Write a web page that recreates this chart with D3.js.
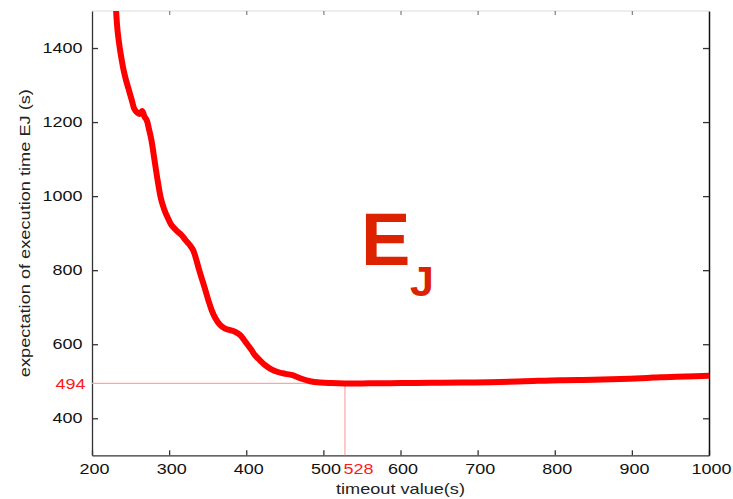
<!DOCTYPE html>
<html>
<head>
<meta charset="utf-8">
<script src="https://cdn.jsdelivr.net/npm/d3@7"></script>
<style>
  html, body { margin: 0; padding: 0; background: #fff; }
  svg { display: block; font-family: "Liberation Sans", Arial, Helvetica, sans-serif; }
</style>
</head>
<body>
<svg id="chart" width="733" height="499"></svg>
<script>
// Timeout value (s) and the expected execution time E_J (s) for each timeout
const timeout = [231, 233, 236, 238.5, 241, 244, 248, 251.5, 255, 259, 262, 265, 268, 271, 274, 277,
  281, 285, 289.5, 294, 299, 303, 310, 316, 321, 326, 331, 335, 339, 343, 347, 351, 355, 360, 366,
  372, 379, 386, 392, 397, 402, 407, 411, 418, 424, 432, 441, 451, 461, 470, 483, 496, 510, 528,
  545, 560, 600, 640, 680, 716, 760, 807, 850, 885, 920, 937, 970, 1000];
const expectedTime = [1510, 1450, 1400, 1368, 1340, 1314, 1285, 1260, 1235, 1225, 1222, 1230, 1215, 1205, 1180, 1152,
  1098, 1044, 992, 962, 938, 922, 906, 895, 882, 870, 855, 830, 800, 773, 746, 718, 693, 670, 652,
  643, 638, 633, 625, 612, 598, 584, 571, 556, 544, 533, 525, 520, 516, 508, 500, 496.5, 495, 494,
  494, 494.5, 495, 496, 496.5, 497.5, 500, 503, 504, 506, 509, 511, 513, 515];

const xTicks = [200, 300, 400, 500, 600, 700, 800, 900, 1000];
const yTicks = [400, 600, 800, 1000, 1200, 1400];

// Optimum marked on the chart
const optTimeout = [528];
const optValue = [494];

const svg = d3.select("#chart");
const plotLeft = 92, plotRight = 709, plotTop = 11, plotBottom = 455.3;
const fontSize = "14.5px";
const widen = 1.24; // labels are set wide along their baseline

const x = d3.scaleLinear().domain([200, 1000]).range([plotLeft, plotRight]);
const y = d3.scaleLinear().domain([300, 1500]).range([plotBottom, plotTop]);

// stretch each text horizontally about its own anchor point
function stretch(sel, s) {
  sel.each(function () {
    const t = d3.select(this);
    const ax = +t.attr("x") || 0, ay = +t.attr("y") || 0;
    t.attr("transform", `translate(${ax},${ay}) scale(${s},1) translate(${-ax},${-ay})`);
  });
}

svg.append("defs").append("clipPath").attr("id", "plot-clip")
  .append("rect").attr("x", plotLeft).attr("y", plotTop)
  .attr("width", plotRight - plotLeft).attr("height", plotBottom - plotTop);

// frame: light top edge
svg.append("line").attr("x1", plotLeft).attr("x2", plotRight).attr("y1", plotTop).attr("y2", plotTop)
  .attr("stroke", "#dcdcdc").attr("stroke-width", 1);

function styleAxis(g, color, textColor) {
  g.select(".domain").attr("stroke", color).attr("stroke-width", 1.3);
  g.selectAll(".tick line").attr("stroke", color).attr("stroke-width", 1.3);
  g.selectAll(".tick text").attr("fill", textColor).style("font-size", fontSize);
}

// bottom axis (ticks pointing inward)
const gx = svg.append("g").attr("transform", `translate(0,${plotBottom})`)
  .call(d3.axisBottom(x).tickValues(xTicks).tickFormat(d3.format("d")).tickSize(-5).tickSizeOuter(0).tickPadding(8));
styleAxis(gx, "#333", "#111");
gx.selectAll(".tick text").attr("x", 2);
stretch(gx.selectAll(".tick text"), widen);

// top mirror ticks
const gxt = svg.append("g").attr("transform", `translate(0,${plotTop})`)
  .call(d3.axisTop(x).tickValues(xTicks.slice(1, -1)).tickFormat("").tickSize(-4).tickSizeOuter(0));
gxt.select(".domain").remove();
gxt.selectAll(".tick line").attr("stroke", "#888").attr("stroke-width", 1.3);

// left axis
const gy = svg.append("g").attr("transform", `translate(${plotLeft},0)`)
  .call(d3.axisLeft(y).tickValues(yTicks).tickFormat(d3.format("d")).tickSize(-6).tickSizeOuter(0).tickPadding(9.5));
styleAxis(gy, "#333", "#111");
stretch(gy.selectAll(".tick text"), widen);

// right mirror axis
const gyr = svg.append("g").attr("transform", `translate(${plotRight},0)`)
  .call(d3.axisRight(y).tickValues(yTicks).tickFormat("").tickSize(-6).tickSizeOuter(0));
gyr.select(".domain").attr("stroke", "#111").attr("stroke-width", 1.5);
gyr.selectAll(".tick line").attr("stroke", "#333").attr("stroke-width", 1.3);

// optimum guide lines
const pink = "#ffa4a4";
svg.append("line")
  .attr("x1", plotLeft).attr("x2", x(optTimeout[0]))
  .attr("y1", y(optValue[0])).attr("y2", y(optValue[0]))
  .attr("stroke", pink).attr("stroke-width", 1.2);
svg.append("line")
  .attr("x1", x(optTimeout[0])).attr("x2", x(optTimeout[0]))
  .attr("y1", y(optValue[0])).attr("y2", plotBottom)
  .attr("stroke", pink).attr("stroke-width", 1.2);

// E_J curve
const data = timeout.map((t, i) => [t, expectedTime[i]]);
svg.append("path")
  .datum(data)
  .attr("clip-path", "url(#plot-clip)")
  .attr("fill", "none")
  .attr("stroke", "#ff0000")
  .attr("stroke-width", 6)
  .attr("stroke-linejoin", "round")
  .attr("stroke-linecap", "round")
  .attr("d", d3.line().x(d => x(d[0])).y(d => y(d[1])).curve(d3.curveCatmullRom.alpha(0.5)));

// optimum labels
const optY = svg.append("text")
  .attr("x", plotLeft - 6.5).attr("y", y(optValue[0])).attr("dy", "0.35em")
  .attr("text-anchor", "end").attr("fill", "#ff1a1a").style("font-size", fontSize)
  .text(optValue[0]);
stretch(optY, widen);
const optX = svg.append("text")
  .attr("x", x(optTimeout[0]) - 1.5).attr("y", plotBottom + 8).attr("dy", "0.71em")
  .attr("text-anchor", "start").attr("fill", "#ff1a1a").style("font-size", fontSize)
  .text(optTimeout[0]);
stretch(optX, widen);

// axis titles
svg.append("text")
  .attr("transform", `translate(30,${(plotTop + plotBottom) / 2}) rotate(-90) scale(1.3,1)`)
  .attr("text-anchor", "middle").attr("fill", "#222").style("font-size", "14px")
  .text("expectation of execution time EJ (s)");
const xTitle = svg.append("text")
  .attr("x", (plotLeft + plotRight) / 2).attr("y", 494.5)
  .attr("text-anchor", "middle").attr("fill", "#222").style("font-size", fontSize)
  .text("timeout value(s)");
stretch(xTitle, 1.25);

// big E_J annotation
const ej = svg.append("text").attr("fill", "#dd2200").style("font-weight", "bold");
ej.append("tspan").attr("x", 361).attr("y", 265).style("font-size", "74px").text("E");
ej.append("tspan").attr("x", 410).attr("y", 296).style("font-size", "43px").text("J");
</script>
</body>
</html>
